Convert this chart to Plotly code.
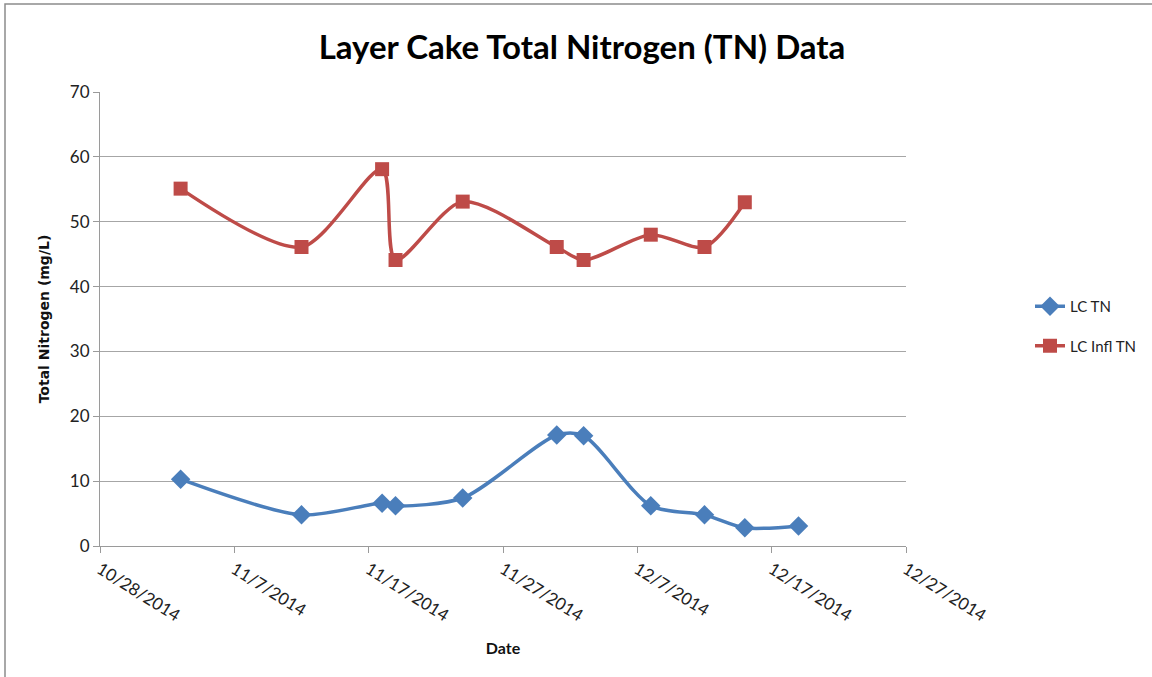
import plotly.graph_objects as go

dates = ["2014-11-03", "2014-11-12", "2014-11-18", "2014-11-19", "2014-11-24",
         "2014-12-01", "2014-12-03", "2014-12-08", "2014-12-12", "2014-12-15"]
infl_tn = [55.1, 46.1, 58.1, 44.1, 53.1, 46.1, 44.1, 48.0, 46.1, 53.0]

lc_dates = ["2014-11-03", "2014-11-12", "2014-11-18", "2014-11-19", "2014-11-24",
            "2014-12-01", "2014-12-03", "2014-12-08", "2014-12-12", "2014-12-15", "2014-12-19"]
lc_tn = [10.3, 4.8, 6.6, 6.2, 7.4, 17.1, 17.0, 6.2, 4.8, 2.8, 3.1]

tick_dates = ["2014-10-28", "2014-11-07", "2014-11-17", "2014-11-27",
              "2014-12-07", "2014-12-17", "2014-12-27"]
tick_labels = ["10/28/2014", "11/7/2014", "11/17/2014", "11/27/2014",
               "12/7/2014", "12/17/2014", "12/27/2014"]

fig = go.Figure()
fig.add_trace(go.Scatter(
    x=lc_dates, y=lc_tn, name="LC TN", mode="lines+markers", legendgroup="a",
    line=dict(color="#4a7ebb", width=3.5, shape="spline", smoothing=0.8),
    marker=dict(symbol="diamond", size=15, color="#4a7ebb"),
))
fig.add_trace(go.Scatter(
    x=dates, y=infl_tn, name="LC Infl TN", mode="lines+markers", legendgroup="b",
    line=dict(color="#be4b48", width=3.5, shape="spline", smoothing=0.8),
    marker=dict(symbol="square", size=14, color="#be4b48"),
))

font_main = "Lato, 'Open Sans', Arial, sans-serif"

# body margin is removed by the post script, so figure px == screen px
L, T, W, H = 100, 92, 806, 454

fig.update_layout(
    width=1152, height=677,
    margin=dict(l=L, r=1152 - L - W, t=T, b=677 - T - H, autoexpand=False),
    paper_bgcolor="white", plot_bgcolor="white",
    font=dict(family=font_main, color="#222"),
    title=dict(text="<b>Layer Cake Total Nitrogen (TN) Data</b>",
               x=((318 + 846) / 2) / 1152, xanchor="center",
               y=1 - 47 / 677, yanchor="middle",
               font=dict(size=33, color="black", family=font_main)),
    showlegend=True,
    legend=dict(x=(1030 - 100) / 806, y=(546 - 326) / 454, xanchor="left", yanchor="middle",
                font=dict(size=15, color="#222", family=font_main),
                tracegroupgap=17, itemwidth=30, bgcolor="rgba(0,0,0,0)"),
    xaxis=dict(
        type="date", range=["2014-10-28", "2014-12-27"],
        tickvals=tick_dates, ticktext=tick_labels, tickangle=32,
        showgrid=False, showline=True, linecolor="#9a9a9a", linewidth=1,
        ticks="outside", ticklen=6, tickcolor="#9a9a9a",
        tickfont=dict(size=17, color="#222", family=font_main),
        title=dict(text="<b>Date</b>", font=dict(size=16, color="#111", family=font_main),
                   standoff=18),
        zeroline=False,
    ),
    yaxis=dict(
        range=[0, 70], dtick=10,
        showgrid=True, gridcolor="#a6a6a6", gridwidth=1,
        showline=True, linecolor="#9a9a9a", linewidth=1,
        ticks="outside", ticklen=6, tickcolor="#9a9a9a",
        tickfont=dict(size=17, color="#222", family=font_main),
        title=dict(text="<b>Total Nitrogen (mg/L)</b>",
                   font=dict(size=14, color="#111", family="'DejaVu Sans', Verdana, sans-serif"),
                   standoff=16),
        zeroline=False,
    ),
    shapes=[dict(type="rect", xref="paper", yref="paper",
                 x0=(5 - 100) / 806, x1=(1180 - 100) / 806,
                 y0=(546 - 720) / 454, y1=(546 - 4) / 454,
                 line=dict(color="#8c8c8c", width=1.5), fillcolor="rgba(0,0,0,0)",
                 layer="below")],
)

fig.write_html("out.html", config={"displayModeBar": False},
               post_script="document.body.style.margin='0';document.body.style.padding='0';")
